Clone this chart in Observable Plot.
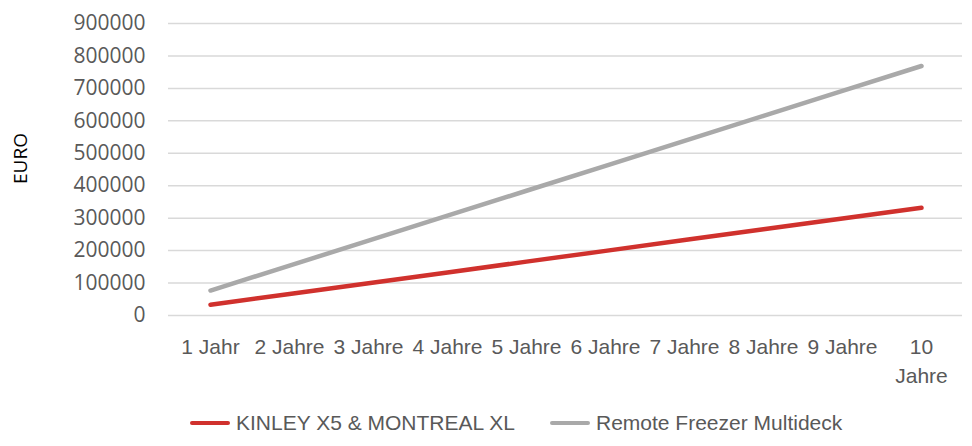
<!DOCTYPE html>
<html>
<head>
<meta charset="utf-8">
<script src="https://cdn.jsdelivr.net/npm/d3@7"></script>
<script src="https://cdn.jsdelivr.net/npm/@observablehq/plot@0.6"></script>
<style>
  body { margin: 0; background: #fff; }
  #chart { width: 972px; height: 446px; position: relative; }
  .legend { position: relative; height: 46px; font-family: "Liberation Sans", Arial, sans-serif; font-size: 21px; color: #595959; }
  .item { position: absolute; top: 11px; display: flex; align-items: center; white-space: nowrap; }
  .sw { width: 40px; height: 4px; margin-right: 6px; border-radius: 2px; }
</style>
</head>
<body>
<div id="chart"></div>
<script>
const categories = ["1 Jahr", "2 Jahre", "3 Jahre", "4 Jahre", "5 Jahre", "6 Jahre", "7 Jahre", "8 Jahre", "9 Jahre", "10 Jahre"];
const tickLabels = ["1 Jahr", "2 Jahre", "3 Jahre", "4 Jahre", "5 Jahre", "6 Jahre", "7 Jahre", "8 Jahre", "9 Jahre", "10\nJahre"];
const seriesNames = ["KINLEY X5 & MONTREAL XL", "Remote Freezer Multideck"];
const kinley = [33200, 66400, 99600, 132800, 166000, 199200, 232400, 265600, 298800, 332000];
const remote = [76900, 153800, 230700, 307600, 384500, 461400, 538300, 615200, 692100, 769000];
const yTicks = [0, 100000, 200000, 300000, 400000, 500000, 600000, 700000, 800000, 900000];
const colors = ["#d0312d", "#a9a9a9"];

const data = [];
categories.forEach((c, i) => {
  data.push({cat: c, value: kinley[i], series: seriesNames[0]});
  data.push({cat: c, value: remote[i], series: seriesNames[1]});
});

const plot = Plot.plot({
  width: 972,
  height: 400,
  marginLeft: 168,
  marginRight: 10,
  marginTop: 23,
  marginBottom: 85,
  style: { background: "#fff" },
  x: { type: "point", domain: categories, padding: 0.5 },
  y: { domain: [0, 900000] },
  color: { domain: seriesNames, range: colors },
  marks: [
    Plot.ruleY(yTicks, { stroke: "#d9d9d9", strokeWidth: 1.5 }),
    Plot.axisY({
      ticks: yTicks, tickSize: 0, tickPadding: 23, tickFormat: d => String(d),
      fontSize: 21, fontFamily: "Open Sans", fill: "#595959", label: null
    }),
    Plot.axisX({
      tickSize: 0, tickPadding: 18, tickFormat: (d) => tickLabels[categories.indexOf(d)],
      fontSize: 21, fontFamily: "Liberation Sans", fill: "#595959", lineHeight: 1.38, label: null
    }),
    Plot.line(data, { x: "cat", y: "value", z: "series", stroke: "series", strokeWidth: 4.5, strokeLinecap: "round" }),
    Plot.text(["EURO"], { frameAnchor: "left", dx: -148, dy: -11, rotate: -90, fontSize: 19, fontFamily: "Open Sans", fill: "#000", textAnchor: "middle", lineAnchor: "middle" })
  ]
});

const chart = document.getElementById("chart");
chart.appendChild(plot);

const legend = document.createElement("div");
legend.className = "legend";
const lefts = [190, 550];
seriesNames.forEach((n, i) => {
  const it = document.createElement("div");
  it.className = "item";
  it.style.left = lefts[i] + "px";
  const sw = document.createElement("span");
  sw.className = "sw";
  sw.style.background = colors[i];
  const t = document.createElement("span");
  t.textContent = n;
  it.appendChild(sw);
  it.appendChild(t);
  legend.appendChild(it);
});
chart.appendChild(legend);
</script>
</body>
</html>
